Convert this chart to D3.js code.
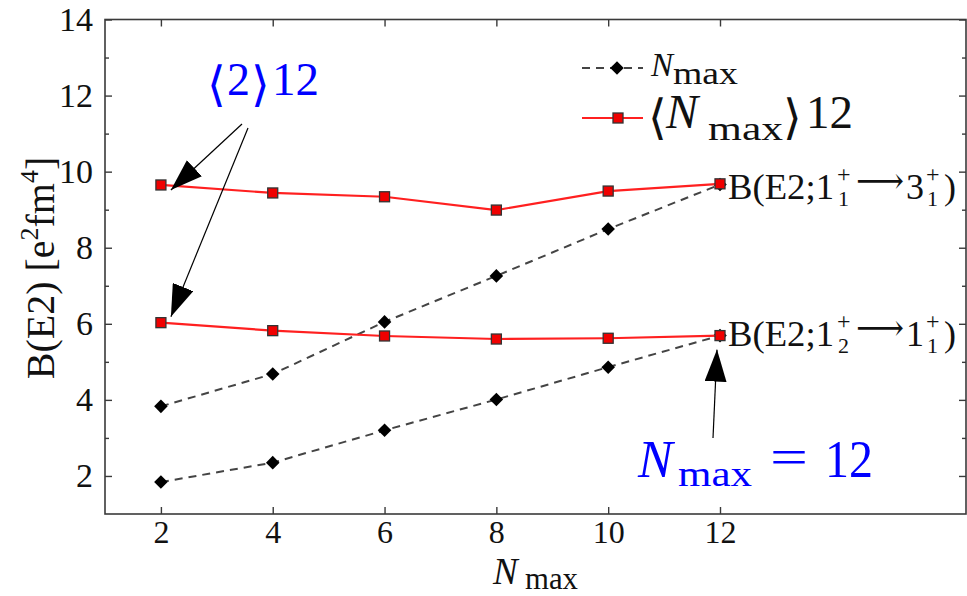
<!DOCTYPE html>
<html>
<head>
<meta charset="utf-8">
<script src="https://cdn.jsdelivr.net/npm/d3@7"></script>
<style>
  body { margin: 0; background: #fff; }
</style>
</head>
<body>
<svg width="967" height="596"></svg>
<script>
// values
var nmax = [2, 4, 6, 8, 10, 12];
var nmaxUpper = [3.83, 4.68, 6.05, 7.26, 8.49, 9.66];   // B(E2;1+1 -> 3+1), plain Nmax
var nmaxLower = [1.84, 2.35, 3.20, 4.01, 4.86, 5.69];   // B(E2;1+2 -> 1+1), plain Nmax
var avgUpper = [9.65, 9.44, 9.34, 8.99, 9.49, 9.68];    // <Nmax>12
var avgLower = [6.03, 5.82, 5.68, 5.60, 5.62, 5.69];
var xTicks = [2, 4, 6, 8, 10, 12];
var yTicks = [2, 4, 6, 8, 10, 12, 14];
var yMinor = [3, 5, 7, 9, 11, 13];

var SERIF = "'Liberation Serif', 'DejaVu Serif', serif";
var MATH = "'DejaVu Serif', serif";

var svg = d3.select("svg");

var x = d3.scaleLinear().domain([1, 16.4]).range([105, 966]),
    y = d3.scaleLinear().domain([1, 14]).range([514, 19.5]);

var axisColor = "#3a3a3a";

// ticks (all pointing inward), no domain paths
function tickAxis(axis, tf, size) {
  var g = svg.append("g").attr("transform", tf).call(axis);
  g.select(".domain").remove();
  g.selectAll(".tick line").attr("stroke", axisColor).attr("stroke-width", 1.4);
  g.selectAll("text").attr("fill", "#111")
    .style("font-family", SERIF).style("font-size", (size || 34) + "px");
  return g;
}

tickAxis(d3.axisLeft(y).tickValues(yTicks).tickSize(-7).tickPadding(12).tickFormat(d3.format("d")),
  "translate(105,0)");
tickAxis(d3.axisLeft(y).tickValues(yMinor).tickSize(-4).tickFormat(""), "translate(105,0)");
tickAxis(d3.axisRight(y).tickValues(yTicks).tickSize(-7).tickFormat(""), "translate(966,0)");
tickAxis(d3.axisRight(y).tickValues(yMinor).tickSize(-4).tickFormat(""), "translate(966,0)");
tickAxis(d3.axisBottom(x).tickValues(xTicks).tickSize(-7).tickPadding(6).tickFormat(d3.format("d")),
  "translate(0,514)", 32);
tickAxis(d3.axisTop(x).tickValues(xTicks).tickSize(-7).tickFormat(""), "translate(0,19.5)");

// frame
svg.append("rect")
  .attr("x", 105).attr("y", 19.5)
  .attr("width", 861).attr("height", 494.5)
  .attr("fill", "none").attr("stroke", axisColor).attr("stroke-width", 1.6);

// series
var line = d3.line()
  .x(function(d) { return x(d[0]); })
  .y(function(d) { return y(d[1]); });

function pairs(vals) { return nmax.map(function(n, i) { return [n, vals[i]]; }); }

var diamond = d3.symbol().type(d3.symbolSquare).size(92);

[nmaxUpper, nmaxLower].forEach(function(vals) {
  svg.append("path").datum(pairs(vals))
    .attr("d", line).attr("fill", "none")
    .attr("stroke", "#444").attr("stroke-width", 2).attr("stroke-dasharray", "8,6");
  svg.selectAll(null).data(pairs(vals)).enter().append("path")
    .attr("transform", function(d) { return "translate(" + x(d[0]) + "," + y(d[1]) + ") rotate(45)"; })
    .attr("d", diamond).attr("fill", "#000");
});

[avgUpper, avgLower].forEach(function(vals) {
  svg.append("path").datum(pairs(vals))
    .attr("d", line).attr("fill", "none")
    .attr("stroke", "#ff2020").attr("stroke-width", 2.2);
  svg.selectAll(null).data(pairs(vals)).enter().append("rect")
    .attr("x", function(d) { return x(d[0]) - 5; })
    .attr("y", function(d) { return y(d[1]) - 5; })
    .attr("width", 10).attr("height", 10)
    .attr("fill", "#f00000").attr("stroke", "#333").attr("stroke-width", 1.3);
});

// text helper
function put(px, py, s, size, opt) {
  opt = opt || {};
  var t = svg.append("text").attr("x", px).attr("y", py)
    .style("font-size", size + "px").style("font-family", opt.font || SERIF)
    .attr("fill", opt.fill || "#111").text(s);
  if (opt.italic) t.style("font-style", "italic");
  if (opt.len) t.attr("textLength", opt.len).attr("lengthAdjust", "spacingAndGlyphs");
  if (opt.anchor) t.attr("text-anchor", opt.anchor);
  return t;
}

// axis titles
put(493, 584, "N", 37, {italic: true});
put(525, 589, "max", 31, {len: 53});

var yl = svg.append("text")
  .attr("transform", "translate(54,268) rotate(-90)")
  .attr("text-anchor", "middle").attr("fill", "#111")
  .style("font-family", SERIF).style("font-size", "40px");
yl.append("tspan").text("B(E2) [e");
yl.append("tspan").style("font-size", "26px").attr("dy", -16).text("2");
yl.append("tspan").attr("dy", 16).text("fm");
yl.append("tspan").style("font-size", "26px").attr("dy", -16).text("4");
yl.append("tspan").attr("dy", 16).text("]");

// legend
svg.append("line").attr("x1", 582).attr("x2", 643).attr("y1", 68).attr("y2", 68)
  .attr("stroke", "#444").attr("stroke-width", 2).attr("stroke-dasharray", "8,6");
svg.append("path").attr("d", diamond).attr("transform", "translate(617,68) rotate(45)").attr("fill", "#000");
put(651, 76, "N", 33, {italic: true});
put(673, 84, "max", 31, {len: 65});

svg.append("line").attr("x1", 582).attr("x2", 643).attr("y1", 118).attr("y2", 118)
  .attr("stroke", "#ff2020").attr("stroke-width", 2.2);
svg.append("rect").attr("x", 613).attr("y", 113).attr("width", 10).attr("height", 10)
  .attr("fill", "#f00000").attr("stroke", "#333").attr("stroke-width", 1.3);
put(648, 134, "\u27E8", 48, {font: MATH});
put(666, 128, "N", 48, {italic: true});
put(708, 140, "max", 34, {len: 75});
put(783, 134, "\u27E9", 48, {font: MATH});
put(806, 128, "12", 46, {len: 47});

// transition labels
function transition(py, a, b, c) {
  put(728, py, "B(E2;1", 36, {len: 106});
  put(837, py - 17, "+", 24);
  put(838, py + 7, a, 22);
  put(856, py - 6, "\u27F6", 36, {font: MATH, len: 48});
  put(906, py, b, 36);
  put(926, py - 17, "+", 24);
  put(927, py + 7, c, 22);
  put(944, py, ")", 36);
}
transition(199, "1", "3", "1");
transition(346, "2", "1", "1");

// blue annotations
var blue = "#0000ff";
put(207, 101, "\u27E8", 48, {fill: blue, font: MATH});
put(227, 95, "2", 46, {fill: blue});
put(251, 101, "\u27E9", 48, {fill: blue, font: MATH});
put(272, 95, "12", 46, {fill: blue, len: 47});

put(638, 477, "N", 52, {fill: blue, italic: true});
put(678, 486, "max", 36, {fill: blue, len: 74});
put(770, 474, "=", 50, {fill: blue, len: 38});
put(825, 477, "12", 52, {fill: blue, len: 48});

// arrows
svg.append("defs").append("marker")
  .attr("id", "head").attr("viewBox", "0 0 32 22")
  .attr("refX", 32).attr("refY", 11)
  .attr("markerWidth", 32).attr("markerHeight", 22)
  .attr("markerUnits", "userSpaceOnUse").attr("orient", "auto")
  .append("path").attr("d", "M0,0L32,11L0,22Z").attr("fill", "#000");

var arrows = [
  [242, 124, x(2) + 10, y(avgUpper[0]) + 5],
  [248, 128, x(2) + 10, y(avgLower[0]) - 6],
  [713, 438, x(12) - 3, y(avgLower[5]) + 14]
];
svg.selectAll(null).data(arrows).enter().append("line")
  .attr("x1", function(d) { return d[0]; }).attr("y1", function(d) { return d[1]; })
  .attr("x2", function(d) { return d[2]; }).attr("y2", function(d) { return d[3]; })
  .attr("stroke", "#000").attr("stroke-width", 1.2)
  .attr("marker-end", "url(#head)");
</script>
</body>
</html>
